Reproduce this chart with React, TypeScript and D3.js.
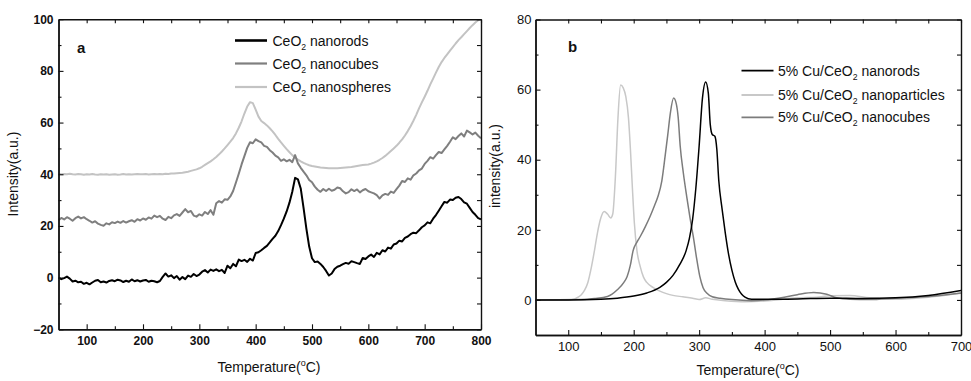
import { useEffect, useRef } from 'react';
import * as d3 from 'd3';

// panel a: CeO2 supports, sampled every 5 °C
const tempA = d3.range(50, 801, 5);
const rodsA = [
  0.0, -0.6, -0.2, 0.4, -0.4, -1.5, -1.2, -1.8, -1.6, -2.4,
  -2.0, -2.6, -1.9, -1.2, -0.9, -1.8, -1.5, -1.9, -1.3, -1.0,
  -1.4, -0.8, -1.1, -1.7, -1.2, -1.6, -0.7, -1.4, -1.0, -1.5,
  -1.1, -0.9, -1.6, -1.2, -1.4, -1.8, -1.3, 0.3, 1.6, 0.4,
  0.9, -0.2, 0.6, -0.8, 0.2, -0.6, 0.8, 0.3, 1.4, 0.6,
  1.2, 2.3, 2.9, 2.0, 3.1, 2.6, 3.2, 2.5, 3.0, 1.8,
  4.6, 3.6, 5.3, 4.4, 7.0, 6.4, 6.9, 6.1, 7.3, 6.6,
  9.5, 9.8, 10.6, 11.5, 12.3, 13.6, 15.0, 16.2, 18.0, 20.3,
  22.8, 25.6, 29.0, 33.2, 38.6, 38.0, 34.5, 27.0, 19.0, 12.0,
  7.5, 6.0, 6.2, 5.3, 4.1, 2.6, 0.8, 1.6, 3.3, 4.2,
  4.6, 5.2, 5.7, 5.4, 6.3, 6.0, 5.6, 5.3, 7.6, 7.2,
  8.2, 8.9, 8.0, 9.6, 9.0, 10.6, 10.1, 11.6, 11.2, 12.8,
  13.2, 14.3, 14.0, 15.4, 15.9, 16.8, 17.4, 17.2, 18.3, 19.5,
  20.2, 21.4, 21.0, 22.8, 24.2, 25.9, 27.6, 29.3, 29.0, 30.2,
  30.0, 30.9, 31.2, 30.4, 29.1, 28.6, 27.0, 25.4, 24.3, 23.0,
  22.6,
];
const cubesA = [
  22.2, 23.1, 22.5, 23.4, 22.8, 22.0, 23.0, 23.6, 22.9, 23.4,
  22.6, 22.0, 21.3, 21.8, 20.9, 20.4, 20.1, 21.0, 20.6, 21.4,
  21.1, 21.7, 21.2, 21.9, 21.3, 21.8, 22.2, 21.6, 22.6, 22.1,
  22.9, 22.4, 23.3, 22.8, 24.0, 23.4, 23.9, 22.8, 22.3, 23.5,
  23.0, 24.1, 24.6, 23.9, 25.2, 26.5, 25.3, 25.8, 24.0, 23.6,
  24.5, 24.0, 25.4, 24.6, 26.1, 24.3, 28.8, 29.6, 29.0, 30.3,
  30.1, 31.4, 33.5, 36.8, 40.2, 43.8, 47.0, 50.2, 52.4, 52.0,
  53.5, 52.8, 52.3, 51.0, 50.6, 49.3, 48.4, 47.2, 46.5, 45.2,
  45.8, 45.0, 45.6, 44.7, 47.4, 44.2, 42.5, 41.0, 39.6, 37.8,
  36.9, 35.2, 34.0, 33.2, 34.3, 33.5, 34.4, 33.6, 34.0, 34.9,
  34.6, 33.4, 32.6, 33.1, 34.2, 33.5, 34.1, 33.0, 33.8, 34.3,
  33.4, 33.0, 32.6, 31.9, 30.6, 31.8, 32.4, 32.0, 33.3, 32.8,
  34.2, 35.6, 37.4, 37.0, 38.4, 37.9, 39.6, 40.3, 41.5, 42.2,
  44.0, 45.2, 46.6, 46.0, 47.4, 48.6, 48.2, 49.6, 51.0, 52.6,
  54.3, 53.6, 54.8, 55.8, 54.6, 56.9, 56.2, 55.4, 56.1, 54.9,
  53.9,
];
const spheresA = [
  40.2, 40.0, 40.1, 40.0, 40.2, 40.0, 39.9, 40.1, 40.0, 39.8,
  40.0, 39.9, 40.1, 39.9, 39.8, 40.0, 39.9, 40.0, 39.8, 39.9,
  40.0, 39.8, 39.9, 40.1, 39.9, 40.0, 39.9, 40.0, 40.1, 40.0,
  40.0, 40.1, 39.9, 40.0, 40.1, 40.0, 40.1, 40.0, 40.2, 40.1,
  40.3, 40.3, 40.4, 40.5, 40.6, 40.8, 41.0, 41.3, 41.6, 41.9,
  42.3, 42.9, 43.6, 44.3, 45.0, 45.8, 46.7, 47.7, 48.8, 50.0,
  51.3, 52.6, 54.0, 55.8, 58.0, 60.5, 63.5, 66.2, 67.9, 67.5,
  65.0, 62.3, 60.6, 59.8, 58.9, 57.8, 56.6, 55.2, 53.7, 52.3,
  51.0, 49.7, 48.5, 47.4, 46.5, 45.7, 45.0, 44.4, 43.9, 43.5,
  43.2, 43.0, 42.8, 42.6, 42.5, 42.4, 42.3, 42.3, 42.3, 42.3,
  42.4, 42.5, 42.6, 42.7, 42.8, 43.0, 43.2, 43.4, 43.6, 43.7,
  43.8, 44.1, 44.5, 45.0, 45.6, 46.3, 47.1, 48.0, 49.0, 50.0,
  51.0, 52.2, 53.5, 55.0, 56.7, 58.6, 60.7, 63.0, 65.5, 67.8,
  70.0, 72.3, 74.8, 77.0, 79.3, 81.5, 83.4, 85.0, 86.4, 87.8,
  89.2, 90.6, 91.9, 93.0, 94.2, 95.4, 96.6, 97.7, 98.7, 99.6,
  100.3,
];

// panel b: 5% Cu/CeO2 catalysts
const rodsTempB = [50, 100, 150, 175, 200, 220, 240, 250, 260, 270, 280, 285, 290, 295, 300, 305, 310, 314, 317, 320, 324, 327, 330, 335, 340, 345, 350, 355, 360, 365, 370, 380, 400, 450, 500, 550, 600, 650, 700];
const rodsB = [0, 0, 0.2, 0.5, 1.1, 2.0, 3.6, 5.0, 7.0, 10.0, 14.0, 17.5, 23, 32, 44, 57.5, 62.2, 59, 50, 47.2, 46.7, 43, 34, 26, 19, 13, 8.5, 5.2, 3.0, 1.6, 0.8, 0.2, 0.2, 0.3, 0.5, 0.4, 0.6, 1.3, 2.7];

const partTempB = [50, 100, 110, 115, 120, 125, 130, 135, 140, 145, 150, 155, 160, 165, 168, 172, 176, 180, 184, 188, 192, 195, 198, 201, 205, 210, 215, 220, 230, 240, 250, 260, 275, 290, 300, 310, 320, 340, 370, 400, 450, 480, 500, 530, 560, 600, 650, 700];
const partB = [0, 0, 0.3, 0.8, 1.5, 2.8, 5, 9, 14, 19.5, 23.5, 25.2, 24.5, 23.4, 24.5, 35, 52, 61.3, 60.5, 58, 52, 43, 32, 22, 14, 9.5, 6.5, 5, 3.5, 2.5, 1.8, 1.3, 0.9, 0.5, 0.1, 0.6, 0.2, -0.2, -0.5, -0.3, 0.6, 0.8, 1.2, 1.3, 0.6, 0.2, 0.8, 1.9];

const cubesTempB = [50, 120, 140, 160, 175, 185, 190, 195, 199, 205, 210, 218, 225, 232, 237, 243, 248, 252, 256, 261, 265, 268, 271, 276, 281, 286, 291, 296, 301, 306, 312, 320, 332, 350, 380, 400, 430, 450, 475, 495, 510, 530, 560, 600, 650, 700];
const cubesB = [0, 0.1, 0.4, 1.0, 2.9, 5, 6.7, 10, 14, 16.5, 18.1, 21, 23.8, 27, 29.5, 34, 41, 47, 53.3, 57.6, 56, 52, 44, 36, 29.5, 23.5, 18.1, 12, 6.7, 3.5, 1.9, 0.9, 0.5, 0.1, -0.2, 0.0, 0.8, 1.5, 2.1, 1.6, 0.6, 0.2, 0.1, 0.5, 1.0, 2.0];

const xTicksA = [100, 200, 300, 400, 500, 600, 700, 800];
const yTicksA = [-20, 0, 20, 40, 60, 80, 100];
const xTicksB = [100, 200, 300, 400, 500, 600, 700];
const yTicksB = [0, 20, 40, 60, 80];

const FONT = 'Arial, "Liberation Sans", Helvetica, sans-serif';

export default function App() {
  const svgRef = useRef<SVGSVGElement>(null);

  useEffect(() => {
    if (!svgRef.current) return;
    const svg = d3.select(svgRef.current);
    svg.selectAll('*').remove();

    function drawFrame(x: any, y: any, o: any) {
      const [x0, x1] = x.range();
      const [y0, y1] = y.range();
      const g = svg.append('g');
      const style = (sel: any) => {
        sel.attr('font-family', FONT).attr('font-size', o.fontSize).attr('font-weight', o.bold ? 'bold' : 'normal');
        sel.selectAll('path').attr('stroke', '#111').attr('stroke-width', 1.4);
        sel.selectAll('line').attr('stroke', '#111').attr('stroke-width', 1.1);
        sel.selectAll('text').attr('fill', '#111');
      };
      const minorX = d3.range(o.xMinor[0], o.xMinor[1] + 1, o.xMinor[2]);
      const minorY = d3.range(o.yMinor[0], o.yMinor[1] + 1, o.yMinor[2]);

      g.append('g').attr('transform', `translate(0,${y0})`)
        .call(d3.axisBottom(x).tickValues(o.xTicks).tickSize(-5).tickSizeOuter(0).tickPadding(o.padX).tickFormat(d3.format('d')))
        .call(style);
      g.append('g').attr('transform', `translate(0,${y0})`)
        .call(d3.axisBottom(x).tickValues(minorX).tickSize(-3).tickSizeOuter(0).tickFormat(() => ''))
        .call(style);
      g.append('g').attr('transform', `translate(0,${y1})`)
        .call(d3.axisTop(x).tickValues(o.xTicks.concat(minorX)).tickSize(-4).tickSizeOuter(0).tickFormat(() => ''))
        .call(style);
      g.append('g').attr('transform', `translate(${x0},0)`)
        .call(d3.axisLeft(y).tickValues(o.yTicks).tickSize(-5).tickSizeOuter(0).tickPadding(o.padY).tickFormat(d3.format('d')))
        .call(style);
      g.append('g').attr('transform', `translate(${x0},0)`)
        .call(d3.axisLeft(y).tickValues(minorY).tickSize(-3).tickSizeOuter(0).tickFormat(() => ''))
        .call(style);
      g.append('g').attr('transform', `translate(${x1},0)`)
        .call(d3.axisRight(y).tickValues(o.yTicks.concat(minorY)).tickSize(-4).tickSizeOuter(0).tickFormat(() => ''))
        .call(style);
    }

    function drawLines(x: any, y: any, series: any[], curve: any, id: string) {
      const [x0, x1] = x.range();
      const [y0, y1] = y.range();
      svg.append('clipPath').attr('id', id)
        .append('rect').attr('x', x0).attr('y', y1).attr('width', x1 - x0).attr('height', y0 - y1);
      const g = svg.append('g').attr('clip-path', `url(#${id})`);
      series.forEach(s => {
        const pts = s.t.map((t: number, i: number) => [t, s.v[i]]);
        const line = d3.line<number[]>().x(d => x(d[0])).y(d => y(d[1])).curve(curve);
        g.append('path').datum(pts)
          .attr('fill', 'none')
          .attr('stroke', s.color)
          .attr('stroke-width', s.width)
          .attr('stroke-linejoin', 'round')
          .attr('d', line);
      });
    }

    function legend(items: any[], lx0: number, lx1: number, tx: number, ys: number[], pre: string, size: number) {
      items.forEach((s, i) => {
        svg.append('line').attr('x1', lx0).attr('x2', lx1).attr('y1', ys[i]).attr('y2', ys[i])
          .attr('stroke', s.color).attr('stroke-width', s.lw);
        const t = svg.append('text').attr('x', tx).attr('y', ys[i] + 5)
          .attr('font-family', FONT).attr('font-size', size).attr('fill', '#111');
        t.append('tspan').text(pre);
        t.append('tspan').attr('font-size', size * 0.62).attr('dy', 4).text('2');
        t.append('tspan').attr('dy', -4).text(' ' + s.name);
      });
    }

    function xTitle(cx: number, cy: number) {
      const t = svg.append('text').attr('x', cx).attr('y', cy).attr('text-anchor', 'middle')
        .attr('font-family', FONT).attr('font-size', 14).attr('fill', '#111');
      t.append('tspan').text('Temperature(');
      t.append('tspan').attr('font-size', 9).attr('dy', -6).text('o');
      t.append('tspan').attr('dy', 6).text('C)');
    }

    function yTitle(label: string, cx: number, cy: number) {
      svg.append('text').attr('transform', `translate(${cx},${cy}) rotate(-90)`)
        .attr('text-anchor', 'middle').attr('font-family', FONT).attr('font-size', 14).attr('fill', '#111')
        .text(label);
    }

    // ---- panel a ----
    const xA = d3.scaleLinear().domain([50, 800]).range([58.5, 481]);
    const yA = d3.scaleLinear().domain([-20, 100]).range([329.3, 19.2]);
    const seriesA = [
      { t: tempA, v: spheresA, color: '#c3c3c3', width: 2, name: 'nanospheres', lw: 2.2 },
      { t: tempA, v: cubesA, color: '#7f7f7f', width: 2, name: 'nanocubes', lw: 2.2 },
      { t: tempA, v: rodsA, color: '#000', width: 2, name: 'nanorods', lw: 2.6 },
    ];
    drawLines(xA, yA, seriesA, d3.curveLinear, 'clipA');
    drawFrame(xA, yA, {
      xTicks: xTicksA, yTicks: yTicksA, xMinor: [150, 750, 100], yMinor: [-10, 90, 20],
      fontSize: 12, bold: true, padX: 7, padY: 5,
    });
    legend([seriesA[2], seriesA[1], seriesA[0]], 235, 267, 272.5, [40.5, 63.5, 87], 'CeO', 14);
    svg.append('text').attr('x', 77).attr('y', 53).attr('font-family', FONT).attr('font-size', 15)
      .attr('font-weight', 'bold').attr('fill', '#111').text('a');
    xTitle(269, 371.5);
    yTitle('Intensity(a.u.)', 18, 174);

    // ---- panel b ----
    const xB = d3.scaleLinear().domain([50, 700]).range([535.5, 961]);
    const yB = d3.scaleLinear().domain([-10, 80]).range([335, 19.5]);
    const seriesB = [
      { t: rodsTempB, v: rodsB, color: '#000', width: 1.5, name: 'nanorods', lw: 1.8 },
      { t: partTempB, v: partB, color: '#c8c8c8', width: 1.5, name: 'nanoparticles', lw: 1.8 },
      { t: cubesTempB, v: cubesB, color: '#7c7c7c', width: 1.5, name: 'nanocubes', lw: 1.8 },
    ];
    drawLines(xB, yB, [seriesB[1], seriesB[2], seriesB[0]], d3.curveMonotoneX, 'clipB');
    drawFrame(xB, yB, {
      xTicks: xTicksB, yTicks: yTicksB, xMinor: [150, 650, 100], yMinor: [10, 70, 20],
      fontSize: 13, bold: false, padX: 7, padY: 4,
    });
    legend(seriesB, 741.5, 773.5, 778, [70.7, 95, 117.3], '5% Cu/CeO', 14);
    svg.append('text').attr('x', 568).attr('y', 52).attr('font-family', FONT).attr('font-size', 15)
      .attr('font-weight', 'bold').attr('fill', '#111').text('b');
    xTitle(748, 375);
    yTitle('intensity(a.u.)', 500, 166);
  }, []);

  return (
    <svg
      ref={svgRef}
      width={971}
      height={381}
      style={{ position: 'absolute', left: 0, top: 0, background: '#fff' }}
    />
  );
}
